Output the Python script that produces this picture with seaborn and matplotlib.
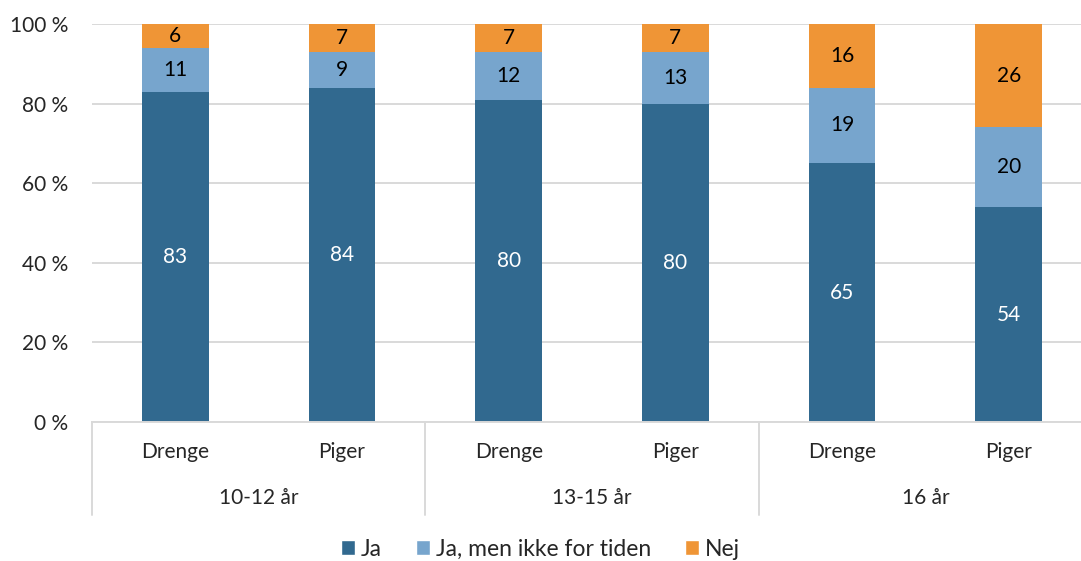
import numpy as np
import pandas as pd
import seaborn as sns
import matplotlib.pyplot as plt
from matplotlib.patches import Patch

# data (percent)
groups = ["10-12 år", "13-15 år", "16 år"]
genders = ["Drenge", "Piger"]
ja = [83, 84, 80, 80, 65, 54]
ja_men = [11, 9, 12, 13, 19, 20]
nej = [6, 7, 7, 7, 16, 26]
series_names = ["Ja", "Ja, men ikke for tiden", "Nej"]
colors = ["#31698F", "#77A5CD", "#EF9536"]

sns.set_theme(style="white")
plt.rcParams["font.family"] = ["Lato", "DejaVu Sans"]
FS = 15

keys = [f"{g}|{s}" for g in groups for s in genders]
raw = np.array([ja, ja_men, nej], dtype=float)
shares = raw / raw.sum(axis=0) * 100  # 100 % stacked

fig = plt.figure(figsize=(10.81, 5.61), dpi=100)
ax = fig.add_axes([92 / 1081, 1 - 422 / 561, 1000 / 1081, 398 / 561])

bottom = np.zeros(len(keys))
for i, name in enumerate(series_names):
    df = pd.DataFrame({"key": keys, "val": shares[i]})
    sns.barplot(data=df, x="key", y="val", color=colors[i], width=0.4,
                bottom=bottom, saturation=1, ax=ax, linewidth=0)
    bottom = bottom + shares[i]

for i, cont in enumerate(ax.containers):
    ax.bar_label(cont, labels=[str(int(v)) for v in raw[i]], label_type="center",
                 color="white" if i == 0 else "black", fontsize=FS)

ax.set_ylim(0, 100)
ax.set_xlim(-0.5, 5.5)
ax.set_yticks(range(0, 101, 20))
ax.set_yticklabels([f"{v} %" for v in range(0, 101, 20)], fontsize=FS)
ax.tick_params(axis="y", length=0, pad=17)
ax.yaxis.grid(True, color="#D9D9D9", linewidth=1.4)
ax.set_axisbelow(True)
ax.set_xticks([])
ax.set_xlabel("")
ax.set_ylabel("")
for s in ["top", "right", "left"]:
    ax.spines[s].set_visible(False)
ax.spines["bottom"].set_color("#D9D9D9")
ax.spines["bottom"].set_linewidth(1.4)

# two-level category axis
trans = ax.get_xaxis_transform()
for k in range(6):
    ax.text(k, -30 / 398, genders[k % 2], transform=trans, ha="center", va="center", fontsize=FS)
for j, g in enumerate(groups):
    ax.text(2 * j + 0.5, -76 / 398, g, transform=trans, ha="center", va="center", fontsize=FS)
for xs in [-0.5, 1.5, 3.5, 5.5]:
    ax.plot([xs, xs], [0, -93 / 398], transform=trans, color="#D9D9D9",
            linewidth=1.4, clip_on=False)

handles = [Patch(facecolor=c, label=n) for c, n in zip(colors, series_names)]
fig.legend(handles=handles, loc="center", bbox_to_anchor=(0.5, 1 - 549 / 561), ncol=3,
           frameon=False, fontsize=16.5, handlelength=0.6, handleheight=0.6,
           handletextpad=0.25, columnspacing=1.5)

fig.savefig("out.png", dpi=100)
